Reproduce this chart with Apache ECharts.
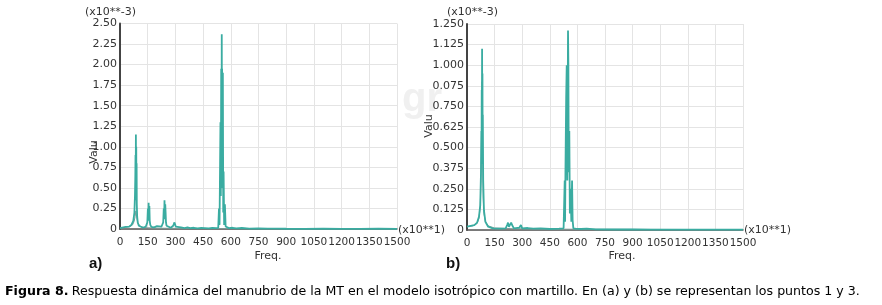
<!DOCTYPE html>
<html>
<head>
<meta charset="utf-8">
<script src="https://cdn.jsdelivr.net/npm/echarts@6/dist/echarts.min.js"></script>
<style>
html, body { margin: 0; padding: 0; background: #fff; }
#fig { width: 882px; height: 305px; }
</style>
</head>
<body>
<div id="fig"></div>
<script>
// tick labels (as printed in the figure, typo "0.075" included)
var xTickLabels = ['0', '150', '300', '450', '600', '750', '900', '1050', '1200', '1350', '1500'];
var yTickLabelsA = ['0', '0.25', '0.50', '0.75', '1.00', '1.25', '1.50', '1.75', '2.00', '2.25', '2.50'];
var yTickLabelsB = ['0', '0.125', '0.250', '0.375', '0.500', '0.625', '0.750', '0.075', '1.000', '1.125', '1.250'];

// punto 1 (a): freq (x10 Hz), valor (x10^-3)
var freqA = [0, 10, 30, 50, 62, 72, 78, 81, 83, 84, 85, 86, 87, 88, 89, 90, 91, 93, 96, 102, 112, 125, 140, 148, 151, 153, 155, 157, 159, 161, 164, 170, 185, 200, 210, 225, 234, 237, 239, 241, 243, 245, 247, 249, 252, 258, 275, 288, 295, 298, 302, 310, 330, 350, 365, 380, 400, 420, 440, 460, 480, 500, 520, 532, 536, 539, 542, 544, 546, 548, 550, 551, 552, 553, 555, 557, 559, 561, 564, 568, 572, 576, 590, 610, 630, 660, 700, 750, 800, 850, 900, 1000, 1100, 1200, 1300, 1400, 1500];
var valA  = [0.01, 0.02, 0.025, 0.03, 0.05, 0.1, 0.2, 0.4, 0.65, 0.9, 0.35, 1.15, 0.55, 1.0, 0.35, 0.8, 0.3, 0.15, 0.08, 0.04, 0.02, 0.015, 0.03, 0.08, 0.25, 0.1, 0.32, 0.12, 0.28, 0.1, 0.05, 0.025, 0.02, 0.035, 0.02, 0.03, 0.08, 0.25, 0.12, 0.35, 0.15, 0.3, 0.2, 0.08, 0.04, 0.02, 0.015, 0.04, 0.08, 0.06, 0.03, 0.015, 0.02, 0.012, 0.02, 0.01, 0.015, 0.008, 0.012, 0.01, 0.008, 0.012, 0.01, 0.015, 0.25, 0.05, 0.8, 1.3, 0.4, 1.95, 0.6, 2.37, 1.2, 1.95, 0.5, 1.9, 0.2, 0.7, 0.05, 0.3, 0.03, 0.015, 0.01, 0.015, 0.008, 0.012, 0.005, 0.006, 0.004, 0.004, 0.003, 0.002, 0.003, 0.002, 0.002, 0.003, 0.002];
var freqA2 = [0, 30, 55, 68, 76, 82, 86, 92, 98, 108, 125, 150, 200, 300, 500, 1500];
var valA2  = [0.01, 0.02, 0.03, 0.05, 0.09, 0.15, 0.22, 0.12, 0.07, 0.035, 0.02, 0.015, 0.01, 0.008, 0.005, 0.002];

// punto 3 (b)
var freqB = [0, 20, 40, 55, 65, 72, 76, 78, 79, 80, 81, 82, 83, 84, 85, 86, 88, 92, 100, 115, 140, 180, 210, 218, 223, 228, 236, 240, 245, 255, 285, 293, 300, 330, 360, 400, 450, 500, 525, 531, 533, 535, 539, 542, 545, 547, 549, 551, 553, 556, 559, 563, 567, 571, 574, 578, 590, 620, 650, 700, 800, 900, 1000, 1100, 1200, 1300, 1400, 1500];
var valB  = [0.02, 0.025, 0.03, 0.045, 0.08, 0.15, 0.35, 0.6, 0.4, 0.85, 0.65, 1.10, 0.6, 0.95, 0.5, 0.7, 0.3, 0.12, 0.05, 0.02, 0.01, 0.008, 0.01, 0.03, 0.045, 0.02, 0.03, 0.045, 0.03, 0.01, 0.015, 0.03, 0.01, 0.012, 0.008, 0.01, 0.006, 0.008, 0.01, 0.3, 0.05, 0.35, 0.8, 1.0, 0.3, 0.7, 1.21, 1.0, 0.35, 0.6, 0.1, 0.25, 0.05, 0.3, 0.06, 0.01, 0.008, 0.006, 0.008, 0.004, 0.003, 0.003, 0.002, 0.002, 0.002, 0.002, 0.002, 0.002];
var freqB2 = [0, 30, 55, 65, 72, 76, 79, 82, 85, 88, 92, 100, 115, 150, 250, 500, 1500];
var valB2  = [0.02, 0.025, 0.04, 0.07, 0.14, 0.3, 0.6, 0.9, 0.45, 0.2, 0.1, 0.05, 0.025, 0.012, 0.008, 0.005, 0.002];

function pairs(xs, ys) {
  return xs.map(function (x, i) { return [x, ys[i]]; });
}

var teal = '#3aaca1';
var envColor = '#7f9c98';
var labelFont = 'DejaVu Sans';

function xAxisCfg(idx) {
  return {
    gridIndex: idx, type: 'value', min: 0, max: 1500, interval: 150,
    axisLine: { show: true, onZero: false, lineStyle: { color: '#555', width: 1.5 } },
    axisTick: { show: false },
    splitLine: { show: true, lineStyle: { color: '#e4e4e4', width: 1 } },
    axisLabel: {
      margin: 8, fontSize: 10.5, color: '#333', fontFamily: labelFont,
      showMinLabel: true, showMaxLabel: true, hideOverlap: false,
      formatter: function (v) { return xTickLabels[Math.round(v / 150)]; }
    }
  };
}

function yAxisCfg(idx, max, step, labels) {
  return {
    gridIndex: idx, type: 'value', min: 0, max: max, interval: step,
    axisLine: { show: true, lineStyle: { color: '#444', width: 2 } },
    axisTick: { show: false },
    splitLine: { show: true, lineStyle: { color: '#e4e4e4', width: 1 } },
    axisLabel: {
      margin: 3, fontSize: 11, color: '#333', fontFamily: labelFont,
      formatter: function (v) { return labels[Math.round(v / step)]; }
    }
  };
}

function lineSeries(idx, data, color, width, z) {
  return {
    type: 'line', xAxisIndex: idx, yAxisIndex: idx, data: data,
    showSymbol: false, symbol: 'none', z: z,
    lineStyle: { color: color, width: width }
  };
}

function txt(x, y, s, opt) {
  var style = Object.assign({
    text: s, x: x, y: y, fill: '#333', fontSize: 11, fontFamily: labelFont,
    align: 'left', verticalAlign: 'middle'
  }, opt || {});
  return { type: 'text', style: style, z: 10 };
}

var chart = echarts.init(document.getElementById('fig'));
chart.setOption({
  animation: false,
  backgroundColor: '#fff',
  grid: [
    { left: 120, top: 23.5, width: 277, height: 205.5 },
    { left: 467, top: 24, width: 276, height: 206 }
  ],
  xAxis: [xAxisCfg(0), xAxisCfg(1)],
  yAxis: [
    yAxisCfg(0, 2.5, 0.25, yTickLabelsA),
    yAxisCfg(1, 1.25, 0.125, yTickLabelsB)
  ],
  series: [
    lineSeries(0, pairs(freqA2, valA2), envColor, 1, 2),
    lineSeries(0, pairs(freqA, valA), teal, 1.8, 3),
    lineSeries(1, pairs(freqB2, valB2), envColor, 1, 2),
    lineSeries(1, pairs(freqB, valB), teal, 1.8, 3)
  ],
  graphic: [
    // faint watermark between panels, behind everything
    { type: 'text', z: -10, zlevel: 0,
      style: { text: 'gr', x: 402, y: 100, fill: '#f0f0f0', fontSize: 40, fontWeight: 'bold', fontFamily: 'Liberation Sans', verticalAlign: 'middle' } },
    txt(85, 12, '(x10**-3)'),
    txt(447, 12, '(x10**-3)'),
    txt(398, 230, '(x10**1)'),
    txt(744, 230, '(x10**1)'),
    txt(268, 256, 'Freq.', { align: 'center' }),
    txt(622, 256, 'Freq.', { align: 'center' }),
    { type: 'text', x: 94, y: 152, rotation: Math.PI / 2, z: 10,
      style: { text: 'Valu', fill: '#333', fontSize: 11, fontFamily: labelFont, align: 'center', verticalAlign: 'middle' } },
    { type: 'text', x: 429, y: 126, rotation: Math.PI / 2, z: 10,
      style: { text: 'Valu', fill: '#333', fontSize: 11, fontFamily: labelFont, align: 'center', verticalAlign: 'middle' } },
    txt(89, 264, 'a)', { fill: '#111', fontSize: 15, fontWeight: 'bold', fontFamily: 'Liberation Sans' }),
    txt(446, 264, 'b)', { fill: '#111', fontSize: 15, fontWeight: 'bold', fontFamily: 'Liberation Sans' }),
    {
      type: 'text', z: 10,
      style: {
        x: 5, y: 292, verticalAlign: 'middle',
        text: '{b|Figura 8.} {r|Respuesta dinámica del manubrio de la MT en el modelo isotrópico con martillo. En (a) y (b) se representan los puntos 1 y 3.}',
        rich: {
          b: { fontSize: 12.6, fontWeight: 'bold', fontFamily: 'DejaVu Sans', fill: '#000' },
          r: { fontSize: 12.6, fontFamily: 'DejaVu Sans', fill: '#000' }
        }
      }
    }
  ]
});
</script>
</body>
</html>
